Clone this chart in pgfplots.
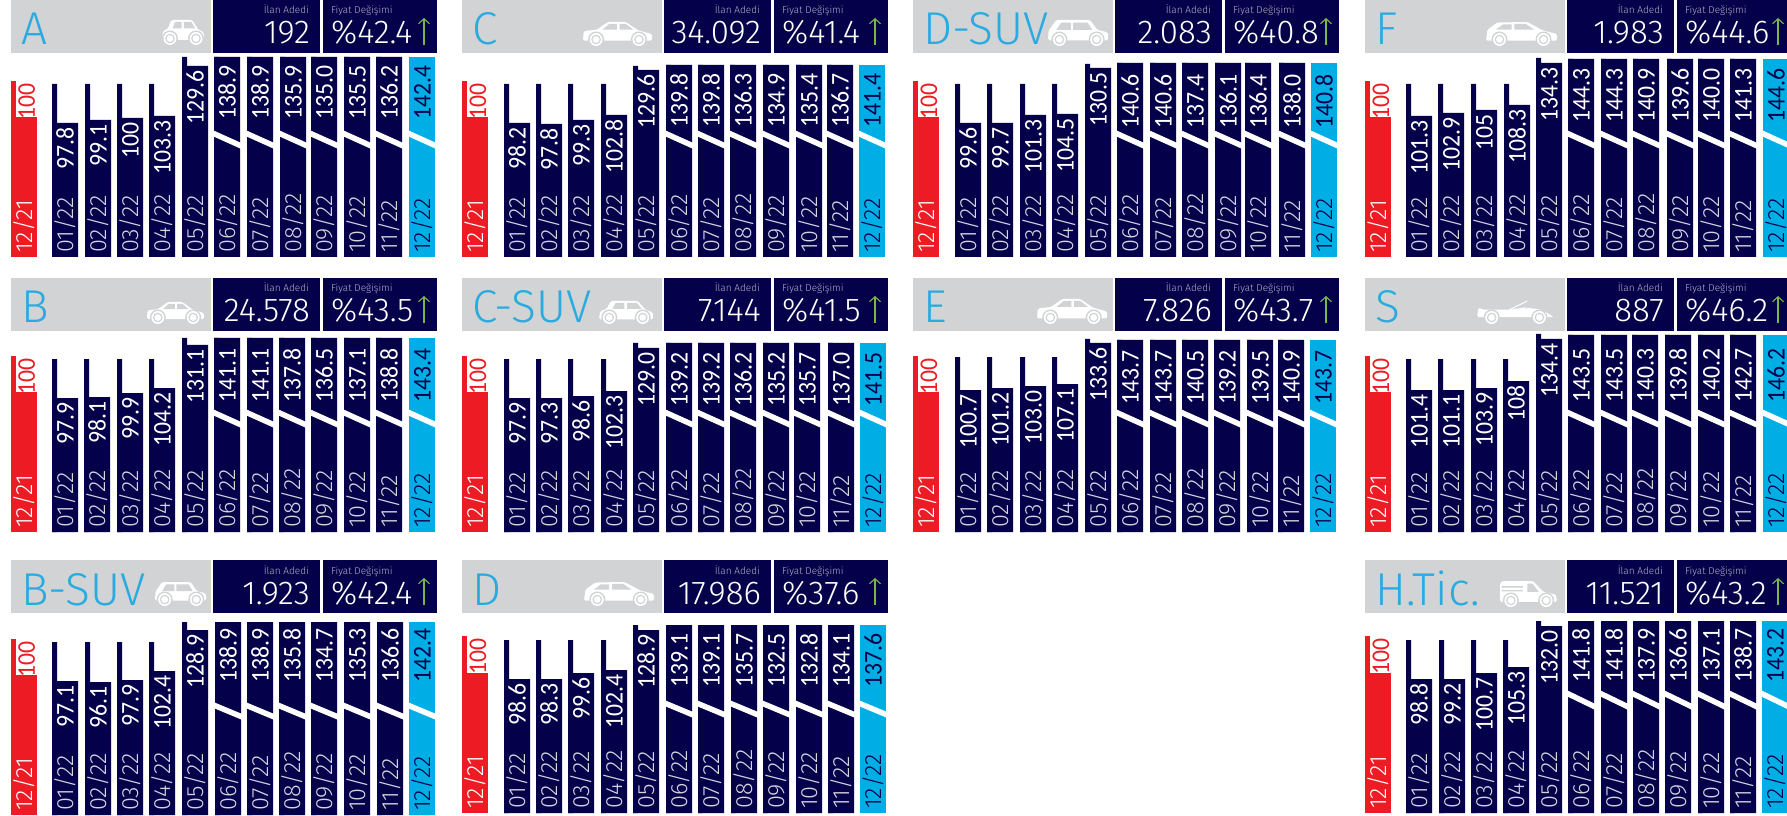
\documentclass[border=0pt]{standalone}
\usepackage{fontspec}
\usepackage{pgfplots}
\usepackage{pgfplotstable}
\pgfplotsset{compat=1.18}
\usetikzlibrary{arrows.meta}
\newfontfamily\lt{Fira Sans Light}
\newfontfamily\vf[FakeStretch=0.93]{Carlito}
\definecolor{navy}{HTML}{05004A}
\definecolor{bred}{HTML}{ED1C24}
\definecolor{bcyan}{HTML}{00AEE6}
\definecolor{ttl}{HTML}{29ABE2}
\definecolor{hdr}{HTML}{D1D3D4}
\definecolor{dgray}{HTML}{D4D4E0}
\definecolor{sgray}{HTML}{B4B4C8}
\definecolor{arr}{HTML}{7AB648}

% columns: x = bar centre in px from panel left, v = printed value,
% h = bar top in px, s = top of the thin left strip in px, d = month
\pgfplotstableread{
x v h s d
13 100 140 176 12/21
54 97.8 134 173 01/22
87 99.1 137 173 02/22
119 100 139 173 03/22
151 103.3 141 173 04/22
184 129.6 191 200 05/22
216 138.9 200 200 06/22
249 138.9 200 200 07/22
282 135.9 200 200 08/22
313 135.0 200 200 09/22
346 135.5 200 200 10/22
378 136.2 200 200 11/22
411 142.4 200 200 12/22
}\tA
\pgfplotstableread{
x v h s d
13 100 140 176 12/21
55 98.2 134 173 01/22
87 97.8 133 173 02/22
119 99.3 137 173 03/22
152 102.8 142 173 04/22
184 129.6 187 191 05/22
217 139.8 192 192 06/22
249 139.8 192 192 07/22
281 136.3 192 192 08/22
314 134.9 192 192 09/22
347 135.4 192 192 10/22
378 136.7 192 192 11/22
410 141.4 192 192 12/22
}\tC
\pgfplotstableread{
x v h s d
13 100 140 176 12/21
55 99.6 134 173 01/22
87 99.7 134 173 02/22
120 101.3 142 173 03/22
152 104.5 143 173 04/22
185 130.5 189 193 05/22
217 140.6 194 194 06/22
250 140.6 194 194 07/22
282 137.4 194 194 08/22
315 136.1 194 194 09/22
345 136.4 194 194 10/22
379 138.0 194 194 11/22
411 140.8 194 194 12/22
}\tDS
\pgfplotstableread{
x v h s d
13 100 140 176 12/21
54 101.3 141 173 01/22
86 102.9 144 173 02/22
119 105 147 173 03/22
152 108.3 152 173 04/22
184 134.3 194 199 05/22
216 144.3 198 198 06/22
249 144.3 198 198 07/22
281 140.9 198 198 08/22
315 139.6 198 198 09/22
346 140.0 198 198 10/22
378 141.3 198 198 11/22
411 144.6 198 198 12/22
}\tF
\pgfplotstableread{
x v h s d
13 100 140 176 12/21
54 97.9 134 173 01/22
86 98.1 135 173 02/22
119 99.9 139 173 03/22
151 104.2 144 173 04/22
184 131.1 187 194 05/22
216 141.1 194 194 06/22
249 141.1 194 194 07/22
281 137.8 194 194 08/22
313 136.5 194 194 09/22
346 137.1 194 194 10/22
378 138.8 194 194 11/22
411 143.4 194 194 12/22
}\tB
\pgfplotstableread{
x v h s d
13 100 140 176 12/21
55 97.9 134 173 01/22
87 97.3 134 173 02/22
119 98.6 136 173 03/22
152 102.3 141 173 04/22
184 129.0 184 189 05/22
217 139.2 189 189 06/22
249 139.2 189 189 07/22
281 136.2 189 189 08/22
314 135.2 189 189 09/22
345 135.7 189 189 10/22
379 137.0 189 189 11/22
411 141.5 189 189 12/22
}\tCS
\pgfplotstableread{
x v h s d
13 100 140 176 12/21
55 100.7 142 175 01/22
87 101.2 144 175 02/22
120 103.0 146 175 03/22
152 107.1 148 175 04/22
185 133.6 189 193 05/22
217 143.7 192 192 06/22
250 143.7 192 192 07/22
282 140.5 192 192 08/22
314 139.2 192 192 09/22
347 139.5 192 192 10/22
378 140.9 192 192 11/22
410 143.7 192 192 12/22
}\tE
\pgfplotstableread{
x v h s d
13 100 140 176 12/21
54 101.4 142 173 01/22
86 101.1 142 173 02/22
119 103.9 144 173 03/22
151 108 151 173 04/22
184 134.4 193 198 05/22
216 143.5 197 197 06/22
249 143.5 197 197 07/22
280 140.3 197 197 08/22
313 139.8 197 197 09/22
346 140.2 197 197 10/22
378 142.7 197 197 11/22
411 146.2 197 197 12/22
}\tS
\pgfplotstableread{
x v h s d
13 100 140 176 12/21
54 97.1 134 173 01/22
87 96.1 133 173 02/22
119 97.9 135 173 03/22
151 102.4 144 173 04/22
184 128.9 185 193 05/22
217 138.9 193 193 06/22
249 138.9 193 193 07/22
281 135.8 193 193 08/22
313 134.7 193 193 09/22
346 135.3 193 193 10/22
379 136.6 193 193 11/22
411 142.4 193 193 12/22
}\tBS
\pgfplotstableread{
x v h s d
13 100 140 177 12/21
55 98.6 134 173 01/22
87 98.3 134 173 02/22
119 99.6 140 173 03/22
152 102.4 143 173 04/22
184 128.9 183 188 05/22
217 139.1 188 188 06/22
249 139.1 188 188 07/22
282 135.7 188 188 08/22
314 132.5 188 188 09/22
347 132.8 188 188 10/22
379 134.1 188 188 11/22
411 137.6 188 188 12/22
}\tD
\pgfplotstableread{
x v h s d
13 100 140 177 12/21
54 98.8 134 173 01/22
87 99.2 134 173 02/22
119 100.7 140 173 03/22
151 105.3 146 173 04/22
184 132.0 187 192 05/22
216 141.8 192 192 06/22
249 141.8 192 192 07/22
281 137.9 192 192 08/22
313 136.6 192 192 09/22
346 137.1 192 192 10/22
378 138.7 192 192 11/22
410 143.2 192 192 12/22
}\tH

\pgfplotsset{
  panel/.style={hide axis,x=1pt,y=1pt,xmin=0,xmax=426,ymin=0,ymax=200,
    enlargelimits=false,anchor=south west,clip=false},
  barp/.style 2 args={ybar,/pgf/bar shift=0pt,/pgf/bar width=26pt,draw=none,
    fill=#1,restrict x to domain=#2,forget plot},
  stripp/.style 2 args={ybar,/pgf/bar shift=-10.5pt,/pgf/bar width=5pt,draw=none,
    fill=#1,restrict x to domain=#2,forget plot},
  lab/.style n args={3}{draw=none,mark=none,forget plot,restrict x to domain=#1,
    nodes near coords,point meta=explicit symbolic,
    nodes near coords style={yshift=#2,rotate=90,anchor=#3,inner sep=0pt,
      text height=17pt,text depth=0pt,font=\vf\fontsize{25.5}{26}\selectfont},
  },
  mon/.style={nodes near coords style={font=\lt\fontsize{23.5}{24}\selectfont}},
}

% #1 left px  #2 page y of header top  #3 page y of bar base
% #4 title  #5 count  #6 pct  #7 icon  #8 table  #9 label drop on broken bars
\newcommand\panel[9]{%
  \begin{scope}[shift={(#1pt,#2pt)},x=1pt,y=1pt]
    \fill[hdr] (0,0) rectangle (200,-53);
    \fill[navy] (202,0) rectangle (309,-53);
    \fill[navy] (312,0) rectangle (426,-53);
    \node[anchor=base west,inner sep=0pt,text=ttl,font=\lt\fontsize{46}{46}\selectfont] at (10,-45) {#4};
    #7
    \node[anchor=base east,inner sep=0pt,text=sgray,font=\lt\fontsize{10}{10}\selectfont] at (298,-14) {İlan Adedi};
    \node[anchor=base west,inner sep=0pt,text=sgray,font=\lt\fontsize{10}{10}\selectfont] at (320,-14) {Fiyat Değişimi};
    \node[anchor=base east,inner sep=0pt,text=white,font=\lt\fontsize{33}{33}\selectfont] at (299,-44) {#5};
    \node[anchor=base west,inner sep=0pt,text=white,font=\lt\fontsize{33}{33}\selectfont] at (320,-44) {\%#6};
    \draw[arr,line width=1.1pt,-{Straight Barb[length=5pt,width=11pt]}] (413,-45) -- (413,-18);
  \end{scope}
  \begin{axis}[panel,at={(#1pt,#3pt)}]
    \addplot[barp={bred}{0:30}] table[x=x,y=h]{#8};
    \addplot[stripp={bred}{0:30}] table[x=x,y=s]{#8};
    \addplot[barp={navy}{30:400}] table[x=x,y=h]{#8};
    \addplot[stripp={navy}{30:400}] table[x=x,y=s]{#8};
    \addplot[barp={bcyan}{400:500}] table[x=x,y=h]{#8};
    % white break mark on the bars that are not to scale
    \addplot[white,line width=5.5pt,mark=none,forget plot,restrict x to domain=190:500,
      quiver={u=30,v=\slashR-\slashL-2.5}] table[x expr=\thisrow{x}-15,y expr=\slashL+1.2]{#8};
    % value labels
    \addplot[lab={0:30}{-2pt}{east},nodes near coords style={text=bred,yshift=-2.5pt}] table[x=x,y=s,meta=v]{#8};
    \addplot[lab={30:200}{-4pt}{east},nodes near coords style={text=white}] table[x=x,y=h,meta=v]{#8};
    \addplot[lab={200:400}{-#9pt}{east},nodes near coords style={text=white}] table[x=x,y=h,meta=v]{#8};
    \addplot[lab={400:500}{-#9pt}{east},nodes near coords style={text=navy}] table[x=x,y=h,meta=v]{#8};
    % months
    \addplot[lab={0:30}{4pt}{west},mon,nodes near coords style={text=white}] table[x=x,y expr=0,meta=d]{#8};
    \addplot[lab={30:400}{4pt}{west},mon,nodes near coords style={text=dgray}] table[x=x,y expr=0,meta=d]{#8};
    \addplot[lab={400:500}{4pt}{west},mon,nodes near coords style={text=navy}] table[x=x,y expr=0,meta=d]{#8};
  \end{axis}%
}

% white pictogram: #1 x #2 width #3 y of bottom #4 height #5 body #6 windows
\newcommand\carico[6]{%
  \begin{scope}[shift={(#1,#3)},x=#2pt,y=#4pt]
    \fill[white,rounded corners=1.5pt] #5 -- cycle;
    \fill[hdr] #6;
    \foreach \wx in {.19,.81}{
      \fill[hdr] (\wx,0) ++(0pt,6.5pt) circle[radius=8pt];
      \fill[white] (\wx,0) ++(0pt,6.5pt) circle[radius=6.5pt];
      \fill[hdr] (\wx,0) ++(0pt,6.5pt) circle[radius=4.8pt];
      \fill[white] (\wx,0) ++(0pt,6.5pt) circle[radius=3.4pt];
    }
  \end{scope}}
\newcommand\hatch[4]{\carico{#1}{#2}{#3}{#4}
  {(0,.2)--(.02,.55)--(.14,.65)--(.22,1)--(.72,1)--(.86,.62)--(1,.5)--(1,.2)}
  {(.25,.66)--(.31,.92)--(.47,.92)--(.47,.66)--cycle (.52,.66)--(.52,.92)--(.7,.92)--(.79,.66)--cycle}}
\newcommand\sedan[4]{\carico{#1}{#2}{#3}{#4}
  {(0,.22)--(.01,.62)--(.2,.68)--(.36,1)--(.62,1)--(.8,.65)--(1,.5)--(1,.22)}
  {(.28,.68)--(.38,.92)--(.49,.92)--(.49,.68)--cycle (.53,.68)--(.53,.92)--(.62,.92)--(.73,.68)--cycle}}
\newcommand\wagon[4]{\carico{#1}{#2}{#3}{#4}
  {(0,.22)--(.02,.68)--(.16,.98)--(.58,1)--(.8,.65)--(1,.5)--(1,.22)}
  {(.14,.68)--(.24,.9)--(.36,.9)--(.36,.68)--cycle (.4,.68)--(.4,.92)--(.56,.92)--(.68,.68)--cycle}}
\newcommand\suv[4]{\carico{#1}{#2}{#3}{#4}
  {(0,.22)--(.01,.6)--(.14,1)--(.7,1)--(.82,.62)--(1,.52)--(1,.22)}
  {(.14,.62)--(.22,.9)--(.38,.9)--(.38,.62)--cycle (.42,.62)--(.42,.9)--(.66,.9)--(.74,.62)--cycle}}
\newcommand\van[4]{\carico{#1}{#2}{#3}{#4}
  {(0,.2)--(0,.92)--(.04,1)--(.58,1)--(.76,.58)--(.98,.48)--(1,.2)}
  {(.48,.58)--(.48,.9)--(.57,.9)--(.68,.58)--cycle (.03,.8)--(.4,.8)--(.4,.75)--(.03,.75)--cycle (.03,.65)--(.4,.65)--(.4,.6)--(.03,.6)--cycle}}
\newcommand\cabrio[4]{\carico{#1}{#2}{#3}{#4}
  {(0,.3)--(.02,.72)--(.08,.62)--(.42,.62)--(.62,.72)--(.84,.62)--(1,.3)}
  {(.64,.68)--(.64,.69)--(.65,.69)--(.65,.68)--cycle}
  \draw[white,line width=1pt] (#1+.42*#2,#3+.62*#4) -- (#1+.42*#2+18,#3+#4);}

\begin{document}
\begin{tikzpicture}
  \path[use as bounding box] (0,0) rectangle (1787pt,815pt);
  \def\slashL{123}\def\slashR{112}
  \panel{11}{815}{558}{A}{192}{42.4}{\hatch{151}{42}{-45}{25}}{\tA}{8}
  \panel{462}{815}{558}{C}{34.092}{41.4}{\sedan{121}{69}{-46}{24}}{\tC}{8}
  \panel{913}{815}{558}{D-SUV}{2.083}{40.8}{\suv{135}{60}{-46}{26}}{\tDS}{11}
  \panel{1365}{815}{558}{F}{1.983}{44.6}{\wagon{121}{71}{-46}{24}}{\tF}{9}
  \def\slashL{119}\def\slashR{108}
  \panel{11}{537}{283}{B}{24.578}{43.5}{\sedan{136}{57}{-46}{22}}{\tB}{10}
  \panel{462}{537}{283}{C-SUV}{7.144}{41.5}{\hatch{137}{54}{-46}{23}}{\tCS}{9}
  \panel{913}{537}{283}{E}{7.826}{43.7}{\sedan{124}{70}{-46}{25}}{\tE}{10}
  \panel{1365}{537}{283}{S}{887}{46.2}{\cabrio{112}{77}{-46}{23}}{\tS}{13}
  \def\slashL{109}\def\slashR{99}
  \panel{11}{255}{0}{B-SUV}{1.923}{42.4}{\suv{144}{51}{-46}{24}}{\tBS}{6}
  \panel{462}{255}{2}{D}{17.986}{37.6}{\wagon{122}{70}{-46}{24}}{\tD}{8}
  \def\slashL{119}\def\slashR{107}
  \panel{1365}{255}{2}{H.Tic.}{11.521}{43.2}{\van{135}{57}{-47}{26}}{\tH}{7}
\end{tikzpicture}
\end{document}
